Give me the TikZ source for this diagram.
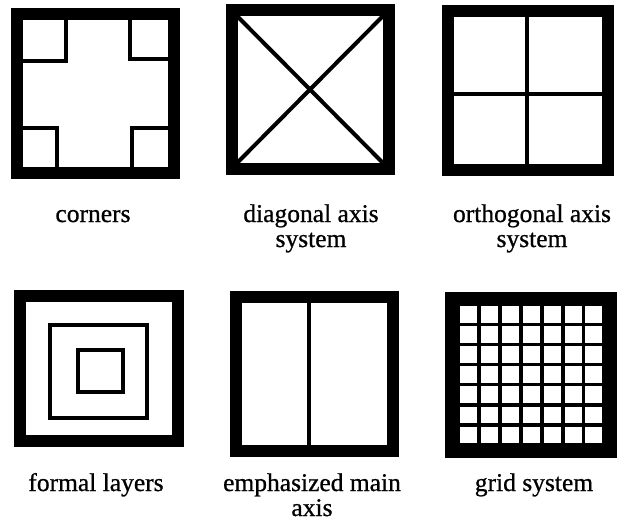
\documentclass[tikz,border=0pt]{standalone}
\usepackage{fontspec}
\setmainfont{Liberation Serif}[FakeBold=0.8]

\tikzset{
  frame/.style={line width=12pt},
  rule/.style={line width=4pt},
  captext/.style={anchor=base, align=center, inner sep=0pt,
    font=\fontsize{25.5}{25}\selectfont}
}

\begin{document}
\begin{tikzpicture}[x=1pt, y=-1pt]
    \useasboundingbox (0,0) rectangle (621,532);

    % Corners
    \draw[frame] (17,14) rectangle (174,173);
    \draw[rule] (23,61) -- (66,61) -- (66,20);
    \draw[rule] (130,20) -- (130,59) -- (168,59);
    \draw[rule] (23,128) -- (57,128) -- (57,167);
    \draw[rule] (168,128) -- (132,128) -- (132,167);
    \node[captext] (corners) at (93,222) {corners};

    % Diagonal axis system (anchor is the last line)
    \draw[frame] (231.5,10) rectangle (389,169);
    \draw[rule] (237,16) -- (383,163);
    \draw[rule] (383,16) -- (237,163);
    \node[captext] (diagonal) at (311,247) {diagonal axis\\system};

    % Orthogonal axis system
    \draw[frame] (447.5,11) rectangle (607.5,170);
    \draw[rule] (527,17) -- (527,164);
    \draw[rule] (453,94.5) -- (602,94.5);
    \node[captext] (orthogonal) at (532,247) {orthogonal axis\\system};

    % Formal layers
    \draw[frame] (20,295.5) rectangle (177.5,441);
    \draw[rule] (50,325) rectangle (147,418);
    \draw[rule] (78,350) rectangle (123,392);
    \node[captext] (layers) at (96,491) {formal layers};

    % Emphasized main axis
    \draw[frame] (235.5,296.5) rectangle (393,451);
    \draw[line width=3.5pt] (309,302) -- (309,445);
    \node[captext] (mainaxis) at (312,516) {emphasized main\\axis};

    % Grid system
    \fill[black] (445,292) rectangle (617,458);
    \foreach \i in {0,...,6}
        \foreach \j in {0,...,6}
            \fill[white] (460+20.9*\i,306+20.1*\j) rectangle ++(17,16.5);
    \node[captext] (grid) at (534,491) {grid system};
\end{tikzpicture}
\end{document}
